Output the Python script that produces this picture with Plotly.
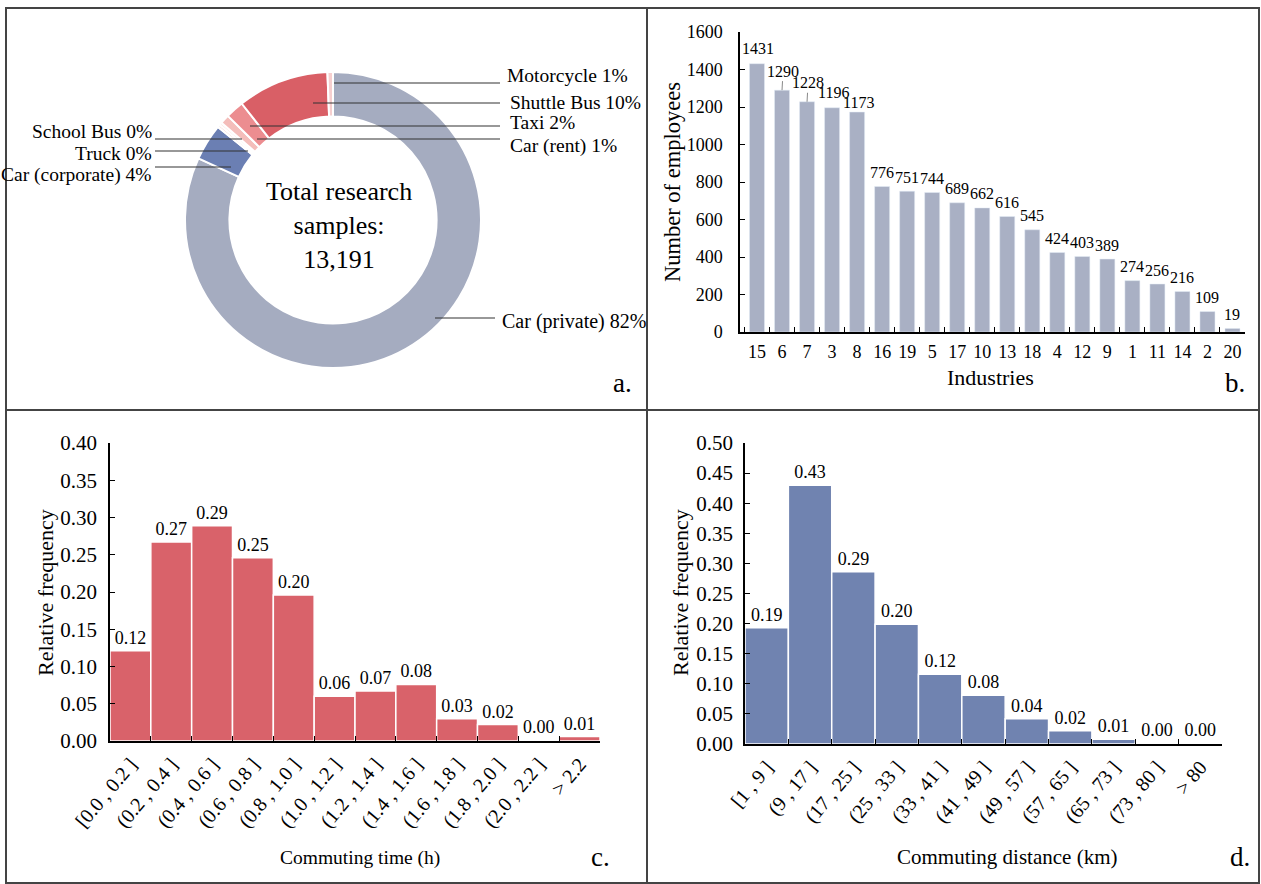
import plotly.graph_objects as go

W, H = 1261, 884
FONT = "Liberation Serif, Times New Roman, serif"

def X(px):
    return px / W

def Y(py):
    return 1 - py / H

# ---------------- data ----------------
mode_labels = ["Car (private)", "Car (corporate)", "Truck", "School Bus",
               "Car (rent)", "Taxi", "Shuttle Bus", "Motorcycle"]
mode_share = [82.0, 4.0, 0.3, 0.3, 1.0, 2.0, 10.0, 0.6]
mode_pct_text = ["82%", "4%", "0%", "0%", "1%", "2%", "10%", "1%"]
mode_colors = ["#A5ACC0", "#6B7FB3", "#F8D9D5", "#FBE5E2",
               "#F4BDBA", "#EC8D90", "#D95F66", "#F6CFCF"]
total_samples = "13,191"

industries = ["15", "6", "7", "3", "8", "16", "19", "5", "17", "10",
              "13", "18", "4", "12", "9", "1", "11", "14", "2", "20"]
employees = [1431, 1290, 1228, 1196, 1173, 776, 751, 744, 689, 662,
             616, 545, 424, 403, 389, 274, 256, 216, 109, 19]

time_bins = ["[0.0 , 0.2 ]", "(0.2 , 0.4 ]", "(0.4 , 0.6 ]", "(0.6 , 0.8 ]",
             "(0.8 , 1.0 ]", "(1.0 , 1.2 ]", "(1.2 , 1.4 ]", "(1.4 , 1.6 ]",
             "(1.6 , 1.8 ]", "(1.8 , 2.0 ]", "(2.0 , 2.2 ]", "> 2.2"]
time_freq = [0.121, 0.267, 0.289, 0.246, 0.196, 0.060, 0.067, 0.076,
             0.030, 0.022, 0.002, 0.006]

dist_bins = ["[1 , 9 ]", "(9 , 17 ]", "(17 , 25 ]", "(25 , 33 ]", "(33 , 41 ]",
             "(41 , 49 ]", "(49 , 57 ]", "(57 , 65 ]", "(65 , 73 ]",
             "(73 , 80 ]", "> 80"]
dist_freq = [0.193, 0.430, 0.286, 0.199, 0.116, 0.081, 0.042, 0.022,
             0.008, 0.001, 0.001]

# label placement tweaks for panel b (pixel offsets of label centre from bar top)
b_label_offset = {"15": (1, -15), "6": (1, -19), "7": (1, -19),
                  "3": (1, -15), "8": (1, -10)}
b_label_leader = {"6", "7"}

# ---------------- figure ----------------
fig = go.Figure()

# a. donut
fig.add_trace(go.Pie(
    labels=mode_labels, values=mode_share, hole=0.70, sort=False,
    direction="clockwise", rotation=0, textinfo="none", showlegend=False,
    marker=dict(colors=mode_colors, line=dict(color="white", width=2)),
    domain=dict(x=[X(185), X(481)], y=[Y(368), Y(72)]),
))

# b. industries bar
fig.add_trace(go.Bar(
    x=industries, y=employees, xaxis="x", yaxis="y", width=0.6,
    marker=dict(color="#A9B0C4"), showlegend=False,
))

# c. commuting time
fig.add_trace(go.Bar(
    x=time_bins, y=time_freq, xaxis="x2", yaxis="y2", width=1.0,
    marker=dict(color="#D9626A", line=dict(color="white", width=1.5)),
    text=[f"{v:.2f}" for v in time_freq], textposition="outside", textangle=0,
    constraintext="none", cliponaxis=False,
    textfont=dict(family=FONT, size=18, color="black"), showlegend=False,
))

# d. commuting distance
fig.add_trace(go.Bar(
    x=dist_bins, y=dist_freq, xaxis="x3", yaxis="y3", width=1.0,
    marker=dict(color="#7083B0", line=dict(color="white", width=1.5)),
    text=[f"{v:.2f}" for v in dist_freq], textposition="outside", textangle=0,
    constraintext="none", cliponaxis=False,
    textfont=dict(family=FONT, size=18, color="black"), showlegend=False,
))

axis_common = dict(showline=True, linecolor="black", linewidth=1.5, ticks="inside",
                   ticklen=5, tickcolor="black", showgrid=False, zeroline=False,
                   fixedrange=True, automargin=False)

fig.update_layout(
    width=W, height=H, margin=dict(l=0, r=0, t=0, b=0, autoexpand=False),
    paper_bgcolor="white", plot_bgcolor="white",
    font=dict(family=FONT, color="black"),
    xaxis=dict(domain=[X(740), X(1245)], anchor="y", type="category",
               tickson="boundaries", tickangle=0, tickfont=dict(size=18),
               ticklabelstandoff=3, **axis_common),
    yaxis=dict(domain=[Y(332), Y(32)], anchor="x", range=[0, 1600], dtick=200,
               tickfont=dict(size=18), ticklabelstandoff=12, **axis_common),
    xaxis2=dict(domain=[X(110), X(600)], anchor="y2", type="category",
                tickson="boundaries", tickangle=-50, tickfont=dict(size=20),
                ticklabelstandoff=2, **axis_common),
    yaxis2=dict(domain=[Y(741), Y(443)], anchor="x2", range=[0, 0.40], dtick=0.05,
                tickformat=".2f", tickfont=dict(size=21), ticklabelstandoff=7,
                **axis_common),
    xaxis3=dict(domain=[X(745), X(1222)], anchor="y3", type="category",
                tickson="boundaries", tickangle=-50, tickfont=dict(size=20),
                ticklabelstandoff=2, **axis_common),
    yaxis3=dict(domain=[Y(744), Y(443)], anchor="x3", range=[0, 0.50], dtick=0.05,
                tickformat=".2f", tickfont=dict(size=21), ticklabelstandoff=6,
                **axis_common),
)

shapes = []
ann = []

def line(x0, y0, x1, y1, color="#333333", width=1.2):
    shapes.append(dict(type="line", xref="paper", yref="paper",
                       x0=X(x0), y0=Y(y0), x1=X(x1), y1=Y(y1),
                       line=dict(color=color, width=width)))

def text(x, y, s, size, xanchor="center", yanchor="middle", angle=0):
    ann.append(dict(xref="paper", yref="paper", x=X(x), y=Y(y), text=s,
                    showarrow=False, xanchor=xanchor, yanchor=yanchor,
                    textangle=angle, font=dict(family=FONT, size=size, color="black")))

# bar value labels for panel b (anchored to the data through the category axis index)
for i, (cat, val) in enumerate(zip(industries, employees)):
    dx, dy = b_label_offset.get(cat, (0, -14))
    leader = cat in b_label_leader
    ann.append(dict(xref="x", yref="y", x=i, y=val, text=str(val),
                    showarrow=True, ax=dx, ay=dy, axref="pixel", ayref="pixel",
                    arrowhead=0, arrowwidth=1 if leader else 0.1,
                    arrowcolor="#888888" if leader else "rgba(0,0,0,0)",
                    standoff=0, startstandoff=0,
                    font=dict(family=FONT, size=16, color="black")))

# panel frame
shapes.append(dict(type="rect", xref="paper", yref="paper", x0=X(6), y0=Y(8),
                   x1=X(1259), y1=Y(883), line=dict(color="#444444", width=2)))
line(647, 8, 647, 883, "#444444", 2)
line(6, 410, 1259, 410, "#444444", 2)

# pie leader lines & labels
pct = dict(zip(mode_labels, mode_pct_text))
line(334, 83, 500, 83)
text(505, 75, f"Motorcycle {pct['Motorcycle']}", 19.5, "left")
line(313, 103, 500, 103)
text(508, 102, f"Shuttle Bus {pct['Shuttle Bus']}", 19.5, "left")
line(250, 126, 500, 126)
text(508, 123, f"Taxi {pct['Taxi']}", 19.5, "left")
line(257, 139, 500, 139)
text(508, 146, f"Car (rent) {pct['Car (rent)']}", 19.5, "left")
line(155, 139, 242, 139)
text(154, 131, f"School Bus {pct['School Bus']}", 19.5, "right")
line(155, 151, 248, 151)
text(154, 153, f"Truck {pct['Truck']}", 19.5, "right")
line(155, 167, 231, 167)
text(154, 175, f"Car (corporate) {pct['Car (corporate)']}", 19.5, "right")
line(435, 318, 495, 318)
text(500, 321, f"Car (private) {pct['Car (private)']}", 20, "left")

text(339, 225, f"Total research<br>samples:<br>{total_samples}", 26)

# axis titles
text(673, 182, "Number of employees", 22.5, angle=-90)
text(990, 377, "Industries", 22)
text(45, 593, "Relative frequency", 22, angle=-90)
text(360, 858, "Commuting time (h)", 19.5)
text(680, 593, "Relative frequency", 22, angle=-90)
text(1007, 857, "Commuting distance (km)", 21)

# panel letters
text(622, 383, "a.", 27)
text(1235, 383, "b.", 27)
text(600, 857, "c.", 27)
text(1240, 857, "d.", 27)

fig.update_layout(shapes=shapes, annotations=ann)
fig.write_html(
    "out.html",
    config={"displayModeBar": False},
    post_script="document.body.style.margin='0';document.body.style.overflow='hidden';",
)
